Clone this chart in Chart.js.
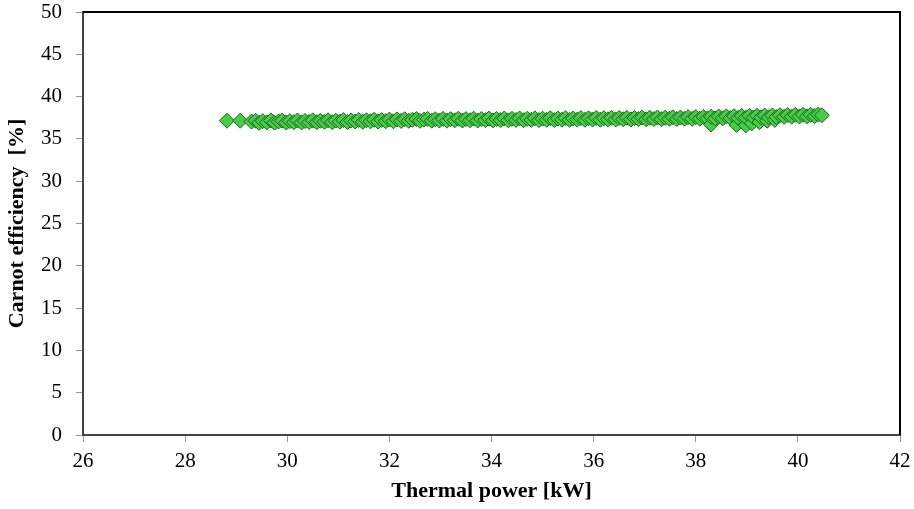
<!DOCTYPE html>
<html>
<head>
<meta charset="utf-8">
<script src="https://cdn.jsdelivr.net/npm/chart.js@4/dist/chart.umd.min.js"></script>
<style>
  html, body { margin: 0; padding: 0; background: #fff; }
  #wrap { width: 914px; height: 509px; position: relative; }
</style>
</head>
<body>
<div id="wrap"><canvas id="carnotChart"></canvas></div>
<script>
// data
var thermalPower = [
    28.82, 29.08,
    29.30, 29.38, 29.45, 29.52, 29.60, 29.68, 29.75, 29.83, 29.90, 29.98,
    30.05, 30.13, 30.20, 30.28, 30.35, 30.43, 30.50, 30.58, 30.65, 30.73, 30.80, 30.88, 30.95,
    31.03, 31.10, 31.18, 31.25, 31.33, 31.40, 31.48, 31.55, 31.63, 31.70, 31.78, 31.85, 31.93,
    32.00, 32.08, 32.15, 32.23, 32.30, 32.38, 32.45, 32.53, 32.60, 32.68, 32.75, 32.83, 32.90, 32.98,
    33.05, 33.13, 33.20, 33.28, 33.35, 33.43, 33.50, 33.58, 33.65, 33.73, 33.80, 33.88, 33.95,
    34.03, 34.10, 34.18, 34.25, 34.33, 34.40, 34.48, 34.55, 34.63, 34.70, 34.78, 34.85, 34.93,
    35.00, 35.08, 35.15, 35.23, 35.30, 35.38, 35.45, 35.53, 35.60, 35.68, 35.75, 35.83, 35.90, 35.98,
    36.05, 36.13, 36.20, 36.28, 36.35, 36.43, 36.50, 36.58, 36.65, 36.73, 36.80, 36.88, 36.95,
    37.03, 37.10, 37.18, 37.25, 37.33, 37.40, 37.48, 37.55, 37.63, 37.70, 37.78, 37.85, 37.93,
    38.00, 38.08, 38.15, 38.23, 38.30, 38.30, 38.38, 38.45, 38.53, 38.60, 38.68, 38.75, 38.80, 38.83,
    38.90, 38.98, 38.98, 39.05, 39.10, 39.13, 39.20, 39.25, 39.28, 39.35, 39.40, 39.43, 39.50, 39.55,
    39.58, 39.65, 39.73, 39.80, 39.88, 39.95, 40.03, 40.10, 40.18, 40.25, 40.33, 40.40, 40.47
];
var carnotEfficiency = [
    37.15, 37.15,
    37.05, 37.15, 36.90, 37.10, 36.95, 37.18, 36.92, 37.06, 37.16, 36.93,
    37.10, 36.98, 37.17, 36.95, 37.12, 37.00, 37.19, 36.97, 37.14, 37.02, 37.20, 36.98, 37.16,
    37.04, 37.22, 37.00, 37.18, 37.06, 37.24, 37.02, 37.20, 37.08, 37.26, 37.05, 37.23, 37.10,
    37.28, 37.08, 37.30, 37.12, 37.32, 37.14, 37.26, 37.34, 37.14, 37.28, 37.36, 37.15, 37.32, 37.18,
    37.37, 37.16, 37.33, 37.20, 37.38, 37.17, 37.34, 37.21, 37.39, 37.18, 37.35, 37.22, 37.40,
    37.19, 37.36, 37.23, 37.41, 37.20, 37.37, 37.24, 37.42, 37.21, 37.38, 37.25, 37.43, 37.22,
    37.39, 37.26, 37.44, 37.23, 37.40, 37.27, 37.45, 37.25, 37.41, 37.28, 37.46, 37.26, 37.43, 37.29,
    37.47, 37.27, 37.44, 37.31, 37.49, 37.29, 37.46, 37.32, 37.50, 37.30, 37.47, 37.34, 37.52,
    37.32, 37.49, 37.35, 37.53, 37.33, 37.50, 37.37, 37.55, 37.35, 37.52, 37.39, 37.57, 37.37,
    37.58, 37.39, 37.60, 37.41, 36.70, 37.62, 37.43, 37.64, 37.45, 37.66, 37.47, 37.68, 36.65, 37.49,
    37.70, 36.60, 37.51, 37.72, 36.85, 37.53, 37.74, 37.00, 37.55, 37.76, 37.15, 37.57, 37.78, 37.25,
    37.59, 37.80, 37.61, 37.82, 37.63, 37.84, 37.65, 37.85, 37.67, 37.86, 37.70, 37.87, 37.80
];
var xTicks = [26, 28, 30, 32, 34, 36, 38, 40, 42];
var yTicks = [0, 5, 10, 15, 20, 25, 30, 35, 40, 45, 50];

var points = thermalPower.map(function (x, i) {
    return { x: x, y: carnotEfficiency[i] };
});

// top and right frame lines are black in the original
var frameLines = {
    id: 'frameLines',
    afterDraw: function (chart) {
        var a = chart.chartArea;
        var ctx = chart.ctx;
        ctx.save();
        ctx.strokeStyle = '#000';
        ctx.lineWidth = 2;
        ctx.beginPath();
        ctx.moveTo(a.left, a.top);
        ctx.lineTo(a.right, a.top);
        ctx.lineTo(a.right, a.bottom);
        ctx.stroke();
        ctx.restore();
    }
};

var tickFont = { family: '"Liberation Serif", "Times New Roman", serif', size: 21 };
var titleFont = { family: '"Liberation Serif", "Times New Roman", serif', size: 22, weight: 'bold' };

new Chart(document.getElementById('carnotChart'), {
    type: 'scatter',
    data: {
        datasets: [{
            data: points,
            pointStyle: 'rectRot',
            pointRadius: 7.5,
            backgroundColor: 'rgb(72, 204, 72)',
            borderColor: 'rgb(28, 100, 28)',
            borderWidth: 1
        }]
    },
    options: {
        responsive: true,
        maintainAspectRatio: false,
        animation: false,
        layout: { padding: { top: 12, right: 14, left: 0, bottom: 0 } },
        scales: {
            x: {
                type: 'linear',
                min: 26,
                max: 42,
                afterBuildTicks: function (scale) {
                    scale.ticks = xTicks.map(function (v) { return { value: v }; });
                },
                afterFit: function (scale) {
                    scale.height = 74;
                    scale.paddingLeft = 0;
                    scale.paddingRight = 0;
                },
                grid: { drawOnChartArea: false, drawTicks: true, tickLength: 7, color: '#999' },
                border: { color: '#444', width: 2 },
                ticks: { color: '#000', font: tickFont, padding: 7, maxRotation: 0 },
                title: { display: true, text: 'Thermal power [kW]', color: '#000', font: titleFont, padding: { top: 2 } }
            },
            y: {
                min: 0,
                max: 50,
                afterBuildTicks: function (scale) {
                    scale.ticks = yTicks.map(function (v) { return { value: v }; });
                },
                afterFit: function (scale) {
                    scale.width = 83;
                    scale.paddingTop = 0;
                    scale.paddingBottom = 0;
                },
                grid: { drawOnChartArea: false, drawTicks: true, tickLength: 7, color: '#999' },
                border: { color: '#444', width: 2 },
                ticks: { color: '#000', font: tickFont, padding: 14 },
                title: { display: true, text: 'Carnot efficiency  [%]', color: '#000', font: titleFont, padding: { bottom: 0 } }
            }
        },
        plugins: {
            legend: { display: false },
            tooltip: { enabled: false }
        }
    },
    plugins: [frameLines]
});
</script>
</body>
</html>
